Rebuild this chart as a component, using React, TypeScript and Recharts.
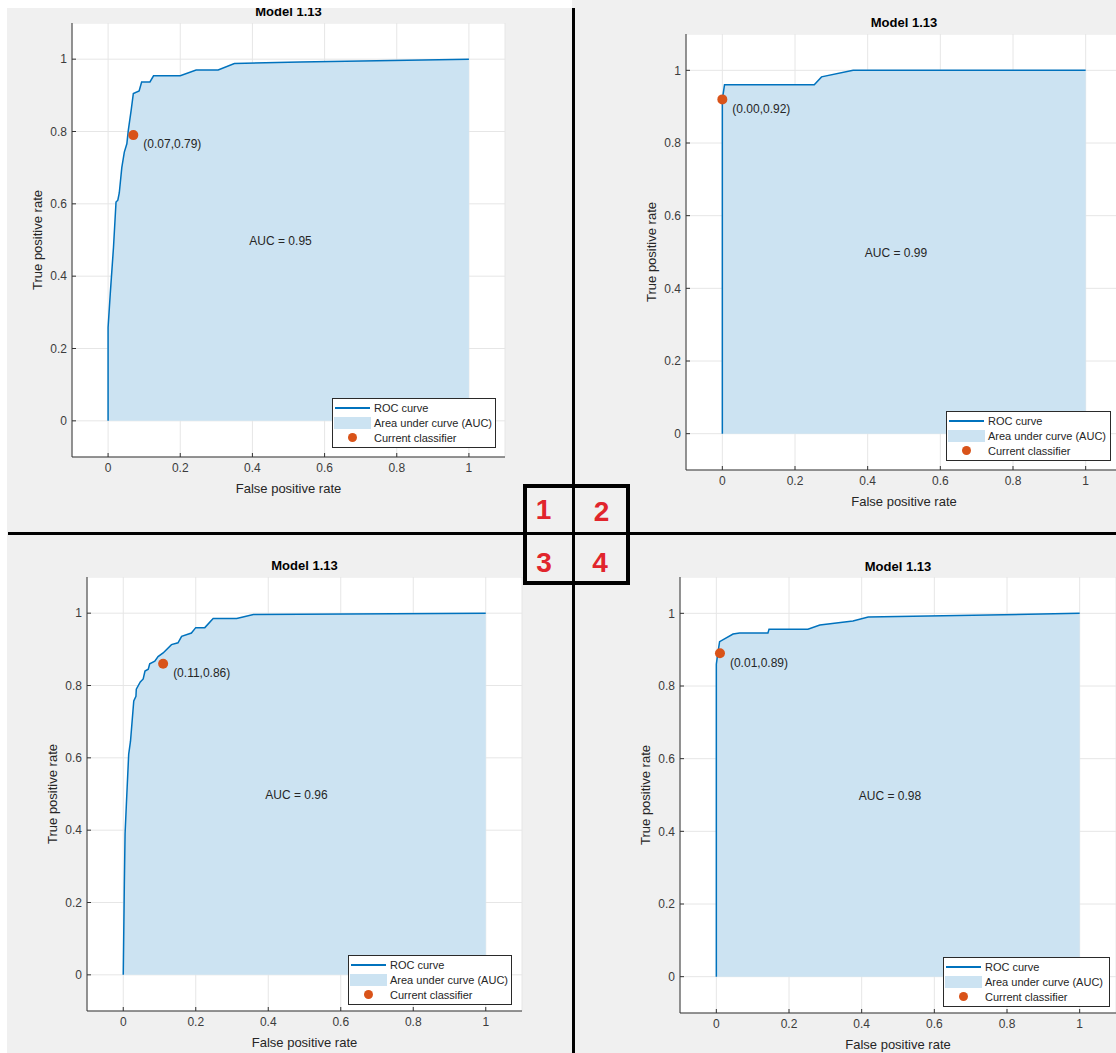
import React from 'react';
import {
  ComposedChart,
  Area,
  Scatter,
  XAxis,
  YAxis,
  CartesianGrid,
  ReferenceDot,
  Label,
} from 'recharts';

// ---------------- data ----------------
const panelTitles = ['Model 1.13', 'Model 1.13', 'Model 1.13', 'Model 1.13'];
const quadrantNumbers = ['1', '2', '3', '4'];
const axisTicks = [0, 0.2, 0.4, 0.6, 0.8, 1];
const legendLabels = ['ROC curve', 'Area under curve (AUC)', 'Current classifier'];
const xAxisLabel = 'False positive rate';
const yAxisLabel = 'True positive rate';

const model1Fpr = [0, 0, 0.006, 0.015, 0.022, 0.027, 0.031, 0.038, 0.045, 0.052, 0.056, 0.064, 0.07, 0.086, 0.093, 0.116, 0.126, 0.2, 0.244, 0.305, 0.35, 0.532, 1];
const model1Tpr = [0, 0.258, 0.351, 0.48, 0.605, 0.61, 0.63, 0.7, 0.743, 0.766, 0.803, 0.859, 0.905, 0.912, 0.937, 0.937, 0.954, 0.954, 0.97, 0.97, 0.988, 0.992, 1];

const model2Fpr = [0, 0, 0.006, 0.253, 0.273, 0.36, 1];
const model2Tpr = [0, 0.92, 0.96, 0.96, 0.982, 1, 1];

const model3Fpr = [0, 0.003, 0.005, 0.009, 0.015, 0.02, 0.029, 0.035, 0.036, 0.047, 0.055, 0.06, 0.069, 0.073, 0.087, 0.096, 0.11, 0.133, 0.151, 0.161, 0.188, 0.2, 0.225, 0.248, 0.313, 0.359, 1];
const model3Tpr = [0, 0.25, 0.39, 0.48, 0.61, 0.646, 0.757, 0.77, 0.79, 0.81, 0.818, 0.84, 0.845, 0.86, 0.867, 0.88, 0.89, 0.913, 0.918, 0.936, 0.945, 0.96, 0.96, 0.985, 0.985, 0.996, 1];

const model4Fpr = [0, 0, 0.004, 0.009, 0.046, 0.064, 0.142, 0.145, 0.252, 0.285, 0.376, 0.418, 1];
const model4Tpr = [0, 0.86, 0.89, 0.922, 0.943, 0.946, 0.946, 0.956, 0.956, 0.968, 0.979, 0.99, 1];

const aucValues = [0.95, 0.99, 0.96, 0.98];
const classifierFpr = [0.07, 0.0, 0.11, 0.01];
const classifierTpr = [0.79, 0.92, 0.86, 0.89];

const fprSeries = [model1Fpr, model2Fpr, model3Fpr, model4Fpr];
const tprSeries = [model1Tpr, model2Tpr, model3Tpr, model4Tpr];

// ---------------- layout / style ----------------
const FONT = '"Liberation Sans", Arial, Helvetica, sans-serif';
const ROC_BLUE = '#0072bd';
const AUC_FILL = '#cce3f2';
const DOT_ORANGE = '#d95319';
const TEXT = '#262626';
const TICK_TEXT = '#3c3c3c';
const AXIS = '#333333';
const GRID = '#e6e6e6';
const YW = 50;
const XH = 45;

const PANELS = [
  { left: 72, top: 23, w: 433, h: 434, legendX: 332, legendY: 398, legendW: 164, titleY: 11.5 },
  { left: 686, top: 34, w: 436, h: 436, legendX: 946, legendY: 411, legendW: 165, titleY: 23 },
  { left: 87, top: 577, w: 435, h: 434, legendX: 348, legendY: 955, legendW: 164, titleY: 565.5 },
  { left: 680, top: 577, w: 436, h: 436, legendX: 943, legendY: 957, legendW: 167, titleY: 566.5 },
];

const ClassifierShape = (props: any) => {
  const { cx, cy, payload } = props;
  if (cx == null || cy == null) return null;
  const label = `(${payload.fpr.toFixed(2)},${payload.tpr.toFixed(2)})`;
  return (
    <g>
      <circle cx={cx} cy={cy} r={5} fill={DOT_ORANGE} />
      <text
        x={cx + 10}
        y={cy + 9}
        dy="0.35em"
        fontSize={12}
        fontFamily={FONT}
        fill={TEXT}
      >
        {label}
      </text>
    </g>
  );
};

function LegendBox({ x, y, w }: { x: number; y: number; w: number }) {
  const rowY = [10, 25, 40];
  return (
    <div
      style={{
        position: 'absolute',
        left: x,
        top: y,
        width: w,
        height: 50,
        border: '1px solid #2a2a2a',
        background: '#ffffff',
        boxSizing: 'border-box',
        fontFamily: FONT,
        fontSize: 11,
        color: TEXT,
      }}
    >
      <div style={{ position: 'absolute', left: 2, top: rowY[0] - 2, width: 35, height: 2, background: ROC_BLUE }} />
      <div style={{ position: 'absolute', left: 1, top: rowY[1] - 7, width: 37, height: 12, background: AUC_FILL }} />
      <div
        style={{
          position: 'absolute',
          left: 20 - 5,
          top: rowY[2] - 6,
          width: 9,
          height: 9,
          borderRadius: '50%',
          background: DOT_ORANGE,
        }}
      />
      {legendLabels.map((t, i) => (
        <div
          key={t}
          style={{
            position: 'absolute',
            left: 41,
            top: rowY[i] - 8,
            height: 14,
            lineHeight: '14px',
            whiteSpace: 'nowrap',
          }}
        >
          {t}
        </div>
      ))}
    </div>
  );
}

function RocPanel({ idx }: { idx: number }) {
  const p = PANELS[idx];
  const data = fprSeries[idx].map((f, i) => ({ fpr: f, tpr: tprSeries[idx][i] }));
  const point = [{ fpr: classifierFpr[idx], tpr: classifierTpr[idx] }];
  const width = YW + p.w + 2;
  const height = p.h + XH;
  return (
    <>
      <div style={{ position: 'absolute', left: p.left - YW, top: p.top, width, height }}>
        <ComposedChart
          width={width}
          height={height}
          data={data}
          margin={{ top: 0, right: 2, bottom: 0, left: 0 }}
        >
          <CartesianGrid stroke={GRID} fill="#ffffff" fillOpacity={1} />
          <XAxis
            dataKey="fpr"
            type="number"
            domain={[-0.1, 1.1]}
            ticks={axisTicks}
            allowDataOverflow
            height={XH}
            axisLine={{ stroke: AXIS }}
            tickLine={{ stroke: AXIS }}
            tickSize={-4}
            tickMargin={10}
            tick={{ fontSize: 12, fill: TICK_TEXT, fontFamily: FONT }}
            interval={0}
          >
            <Label
              value={xAxisLabel}
              position="insideBottom"
              offset={9}
              style={{ fontSize: 13, fill: TEXT, fontFamily: FONT }}
            />
          </XAxis>
          <YAxis
            dataKey="tpr"
            type="number"
            domain={[-0.1, 1.1]}
            ticks={axisTicks}
            allowDataOverflow
            width={YW}
            axisLine={{ stroke: AXIS }}
            tickLine={{ stroke: AXIS }}
            tickSize={-4}
            tickMargin={9}
            tick={{ fontSize: 12, fill: TICK_TEXT, fontFamily: FONT }}
            interval={0}
          >
            <Label
              value={yAxisLabel}
              angle={-90}
              position="insideLeft"
              offset={15}
              style={{ fontSize: 13, fill: TEXT, fontFamily: FONT, textAnchor: 'middle' }}
            />
          </YAxis>
          <Area
            type="linear"
            dataKey="tpr"
            baseValue={0}
            stroke={ROC_BLUE}
            strokeWidth={1.5}
            fill={AUC_FILL}
            fillOpacity={1}
            dot={false}
            activeDot={false}
            isAnimationActive={false}
          />
          <ReferenceDot
            x={0.478}
            y={0.497}
            r={0}
            fill="none"
            stroke="none"
            ifOverflow="visible"
            label={{
              value: `AUC = ${aucValues[idx].toFixed(2)}`,
              position: 'center',
              fontSize: 12,
              fill: TEXT,
              fontFamily: FONT,
            }}
          />
          <Scatter
            data={point}
            dataKey="tpr"
            shape={ClassifierShape}
            isAnimationActive={false}
          />
        </ComposedChart>
      </div>
      <div
        style={{
          position: 'absolute',
          left: p.left,
          width: p.w,
          top: p.titleY - 8,
          height: 16,
          lineHeight: '16px',
          textAlign: 'center',
          fontFamily: FONT,
          fontSize: 13,
          fontWeight: 'bold',
          color: '#000',
          whiteSpace: 'nowrap',
        }}
      >
        {panelTitles[idx]}
      </div>
      <LegendBox x={p.legendX} y={p.legendY} w={p.legendW} />
    </>
  );
}

const numberPos = [
  { x: 543.5, y: 510 },
  { x: 601.5, y: 512 },
  { x: 544, y: 563 },
  { x: 600, y: 563 },
];

export default function App() {
  return (
    <div
      style={{
        position: 'absolute',
        left: 0,
        top: 0,
        width: 1116,
        height: 1053,
        overflow: 'hidden',
        background: '#f0f0f0',
      }}
    >
      {[0, 1, 2, 3].map((i) => (
        <RocPanel key={i} idx={i} />
      ))}
      {/* white border strips from the original screenshot */}
      <div style={{ position: 'absolute', left: 0, top: 0, width: 572, height: 8, background: '#ffffff' }} />
      <div style={{ position: 'absolute', left: 0, top: 0, width: 7, height: 1053, background: '#ffffff' }} />
      {/* quadrant separator lines */}
      <div style={{ position: 'absolute', left: 572, top: 8, width: 3, height: 1045, background: '#000' }} />
      <div style={{ position: 'absolute', left: 8, top: 532, width: 1108, height: 3, background: '#000' }} />
      {/* centre key box */}
      <div
        style={{
          position: 'absolute',
          left: 523,
          top: 484,
          width: 107,
          height: 101,
          border: '4px solid #000',
          boxSizing: 'border-box',
          background: 'transparent',
        }}
      />
      {quadrantNumbers.map((n, i) => (
        <div
          key={n}
          style={{
            position: 'absolute',
            left: numberPos[i].x - 15,
            top: numberPos[i].y - 17,
            width: 30,
            height: 34,
            lineHeight: '34px',
            textAlign: 'center',
            fontFamily: FONT,
            fontWeight: 'bold',
            fontSize: 28,
            color: '#e1252c',
          }}
        >
          {n}
        </div>
      ))}
    </div>
  );
}
